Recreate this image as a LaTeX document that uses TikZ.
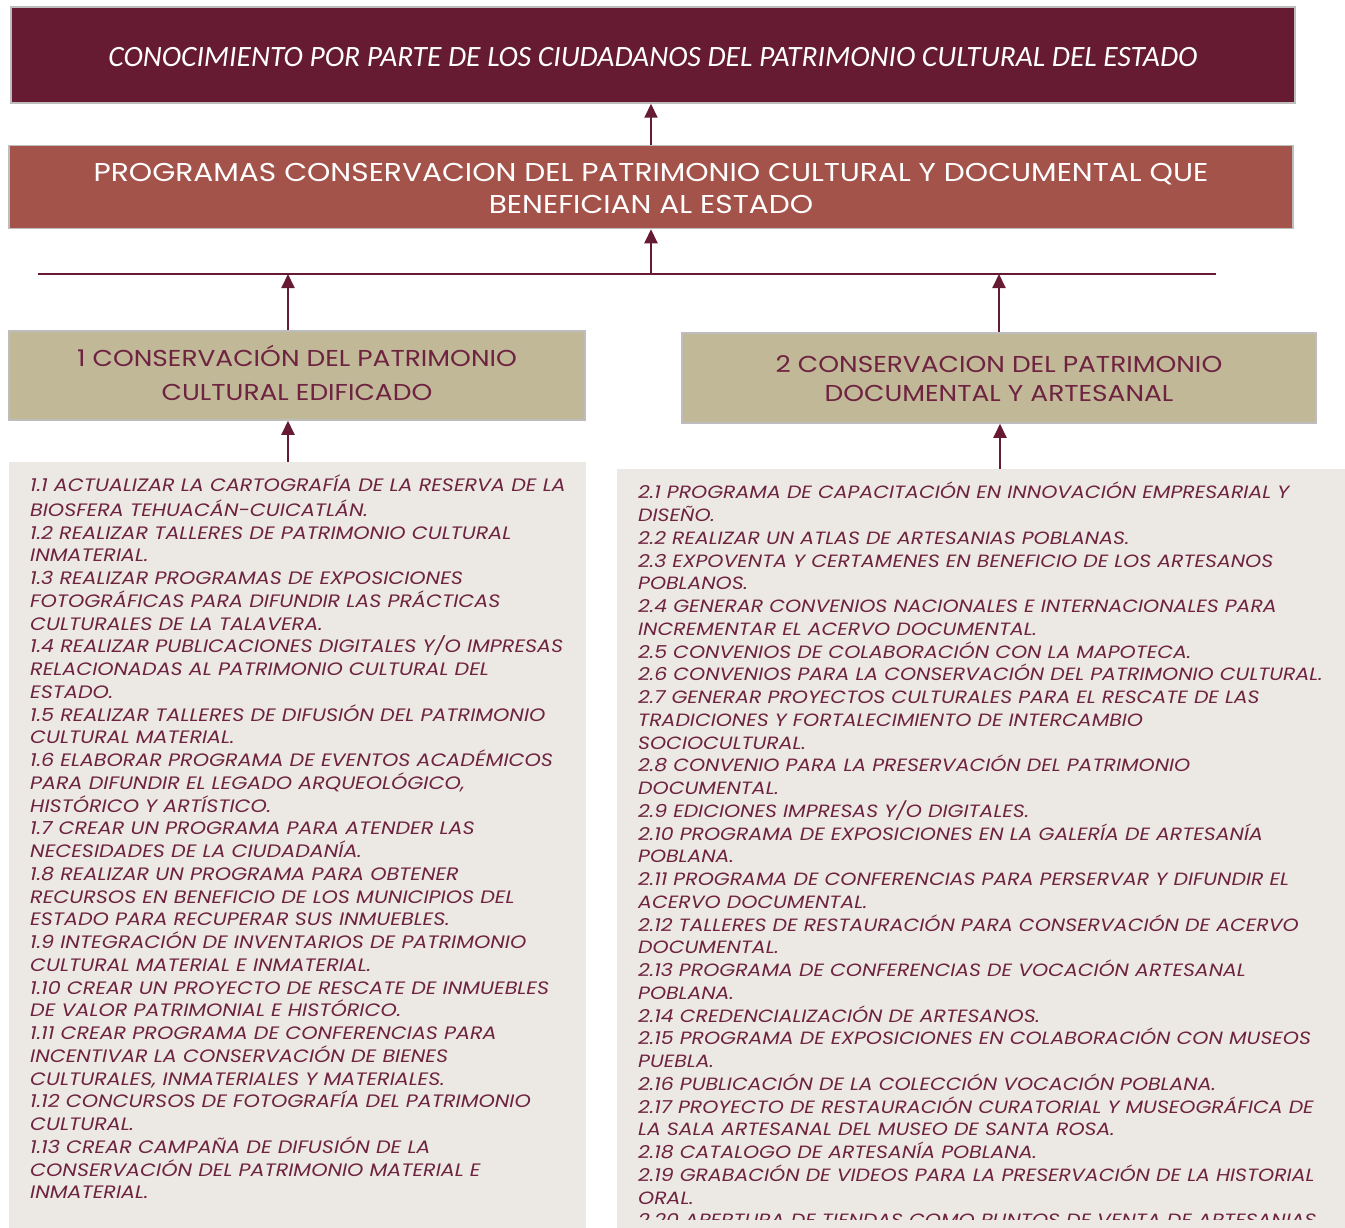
\documentclass[tikz,border=0pt]{standalone}
\usepackage{fontspec}
\setmainfont{Poppins}[FakeStretch=1.15]
\newfontfamily\titlefont{Carlito}
\usetikzlibrary{arrows.meta}
\definecolor{wine}{HTML}{661B33}
\definecolor{brick}{HTML}{A4534A}
\definecolor{tanbox}{HTML}{C1B898}
\definecolor{paper}{HTML}{ECE9E4}
\definecolor{ink}{HTML}{6E2340}
\definecolor{edgegray}{HTML}{BDBDBD}
\begin{document}
\begin{tikzpicture}[x=1pt,y=-1pt,
  box/.style={draw=edgegray, line width=1.5pt, inner sep=0pt, align=center},
  uparrow/.style={draw=wine, line width=2pt, -{Triangle[width=13pt,length=14pt]}},
  listbox/.style={fill=paper, draw=none},
  listtext/.style={anchor=north west, inner sep=0pt, align=left, text=ink,
    font=\fontsize{18}{22.75}\selectfont\itshape},
  midtext/.style={text=ink}]
\useasboundingbox[fill=white] (0,0) rectangle (1345,1228);

% top goal
\node[box, fill=wine, minimum width=1284pt, minimum height=96pt] (goal) at (653,55) {};
\node[text=white, font=\titlefont\itshape\fontsize{29.5}{31}\selectfont, inner sep=0pt]
  (goaltext) at (653,57)
  {CONOCIMIENTO POR PARTE DE LOS CIUDADANOS DEL PATRIMONIO CULTURAL DEL ESTADO};

% purpose
\node[box, fill=brick, minimum width=1284pt, minimum height=83pt] (prog) at (651,187) {};
\node[text=white, align=center, inner sep=0pt, font=\fontsize{25.8}{32}\selectfont]
  (progtext) at (651,188)
  {PROGRAMAS CONSERVACION DEL PATRIMONIO CULTURAL Y DOCUMENTAL QUE\\BENEFICIAN AL ESTADO};

% bar
\coordinate (barL) at (38,274);
\coordinate (barR) at (1216,274);
\draw[wine, line width=2pt] (barL) -- (barR);

% components
\node[box, fill=tanbox, minimum width=576pt, minimum height=89pt] (comp1) at (297,375.5) {};
\node[midtext, align=center, inner sep=0pt, font=\fontsize{23}{34}\selectfont]
  (comp1text) at (297,372.5) {1 CONSERVACIÓN DEL PATRIMONIO\\CULTURAL EDIFICADO};
\node[box, fill=tanbox, minimum width=634pt, minimum height=90pt] (comp2) at (999,378) {};
\node[midtext, align=center, inner sep=0pt, font=\fontsize{23}{29}\selectfont]
  (comp2text) at (999,378.5) {2 CONSERVACION DEL PATRIMONIO\\DOCUMENTAL Y ARTESANAL};

% list backgrounds
\node[listbox, anchor=north west, minimum width=577pt, minimum height=780pt, inner sep=0pt] (list1bg) at (9,462) {};
\node[listbox, anchor=north west, minimum width=740pt, minimum height=780pt, inner sep=0pt] (list2bg) at (617,469) {};

\coordinate (ax1) at (288,0);
\coordinate (ax2) at (1000,0);

% arrows
\draw[uparrow] (prog.north) -- (prog.north |- goal.south);
\draw[uparrow] (prog.south |- barL) -- (prog.south);
\draw[uparrow] (comp1.north -| ax1) -- (ax1 |- barL);
\draw[uparrow] (comp2.north) -- (comp2.north |- barR);
\draw[uparrow] (list1bg.north -| ax1) -- (comp1.south -| ax1);
\draw[uparrow] (list2bg.north -| ax2) -- (comp2.south -| ax2);

% list texts
\node[listtext] (list1) at (30,475) {\strut 1.1 ACTUALIZAR LA CARTOGRAFÍA DE LA RESERVA DE LA\\
BIOSFERA TEHUACÁN-CUICATLÁN.\\
1.2 REALIZAR TALLERES DE PATRIMONIO CULTURAL\\
INMATERIAL.\\
1.3 REALIZAR PROGRAMAS DE EXPOSICIONES\\
FOTOGRÁFICAS PARA DIFUNDIR LAS PRÁCTICAS\\
CULTURALES DE LA TALAVERA.\\
1.4 REALIZAR PUBLICACIONES DIGITALES Y/O IMPRESAS\\
RELACIONADAS AL PATRIMONIO CULTURAL DEL\\
ESTADO.\\
1.5 REALIZAR TALLERES DE DIFUSIÓN DEL PATRIMONIO\\
CULTURAL MATERIAL.\\
1.6 ELABORAR PROGRAMA DE EVENTOS ACADÉMICOS\\
PARA DIFUNDIR EL LEGADO ARQUEOLÓGICO,\\
HISTÓRICO Y ARTÍSTICO.\\
1.7 CREAR UN PROGRAMA PARA ATENDER LAS\\
NECESIDADES DE LA CIUDADANÍA.\\
1.8 REALIZAR UN PROGRAMA PARA OBTENER\\
RECURSOS EN BENEFICIO DE LOS MUNICIPIOS DEL\\
ESTADO PARA RECUPERAR SUS INMUEBLES.\\
1.9 INTEGRACIÓN DE INVENTARIOS DE PATRIMONIO\\
CULTURAL MATERIAL E INMATERIAL.\\
1.10 CREAR UN PROYECTO DE RESCATE DE INMUEBLES\\
DE VALOR PATRIMONIAL E HISTÓRICO.\\
1.11 CREAR PROGRAMA DE CONFERENCIAS PARA\\
INCENTIVAR LA CONSERVACIÓN DE BIENES\\
CULTURALES, INMATERIALES Y MATERIALES.\\
1.12 CONCURSOS DE FOTOGRAFÍA DEL PATRIMONIO\\
CULTURAL.\\
1.13 CREAR CAMPAÑA DE DIFUSIÓN DE LA\\
CONSERVACIÓN DEL PATRIMONIO MATERIAL E\\
INMATERIAL.};

\begin{scope}
\clip (617,469) rectangle (1345,1219);
\node[listtext, font=\fontsize{17.8}{22.75}\selectfont\itshape] (list2) at (638,482) {\strut 2.1 PROGRAMA DE CAPACITACIÓN EN INNOVACIÓN EMPRESARIAL Y\\
DISEÑO.\\
2.2 REALIZAR UN ATLAS DE ARTESANIAS POBLANAS.\\
2.3 EXPOVENTA Y CERTAMENES EN BENEFICIO DE LOS ARTESANOS\\
POBLANOS.\\
2.4 GENERAR CONVENIOS NACIONALES E INTERNACIONALES PARA\\
INCREMENTAR EL ACERVO DOCUMENTAL.\\
2.5 CONVENIOS DE COLABORACIÓN CON LA MAPOTECA.\\
2.6 CONVENIOS PARA LA CONSERVACIÓN DEL PATRIMONIO CULTURAL.\\
2.7 GENERAR PROYECTOS CULTURALES PARA EL RESCATE DE LAS\\
TRADICIONES Y FORTALECIMIENTO DE INTERCAMBIO\\
SOCIOCULTURAL.\\
2.8 CONVENIO PARA LA PRESERVACIÓN DEL PATRIMONIO\\
DOCUMENTAL.\\
2.9 EDICIONES IMPRESAS Y/O DIGITALES.\\
2.10 PROGRAMA DE EXPOSICIONES EN LA GALERÍA DE ARTESANÍA\\
POBLANA.\\
2.11 PROGRAMA DE CONFERENCIAS PARA PERSERVAR Y DIFUNDIR EL\\
ACERVO DOCUMENTAL.\\
2.12 TALLERES DE RESTAURACIÓN PARA CONSERVACIÓN DE ACERVO\\
DOCUMENTAL.\\
2.13 PROGRAMA DE CONFERENCIAS DE VOCACIÓN ARTESANAL\\
POBLANA.\\
2.14 CREDENCIALIZACIÓN DE ARTESANOS.\\
2.15 PROGRAMA DE EXPOSICIONES EN COLABORACIÓN CON MUSEOS\\
PUEBLA.\\
2.16 PUBLICACIÓN DE LA COLECCIÓN VOCACIÓN POBLANA.\\
2.17 PROYECTO DE RESTAURACIÓN CURATORIAL Y MUSEOGRÁFICA DE\\
LA SALA ARTESANAL DEL MUSEO DE SANTA ROSA.\\
2.18 CATALOGO DE ARTESANÍA POBLANA.\\
2.19 GRABACIÓN DE VIDEOS PARA LA PRESERVACIÓN DE LA HISTORIAL\\
ORAL.\\
2.20 APERTURA DE TIENDAS COMO PUNTOS DE VENTA DE ARTESANIAS};
\end{scope}
\end{tikzpicture}
\end{document}
